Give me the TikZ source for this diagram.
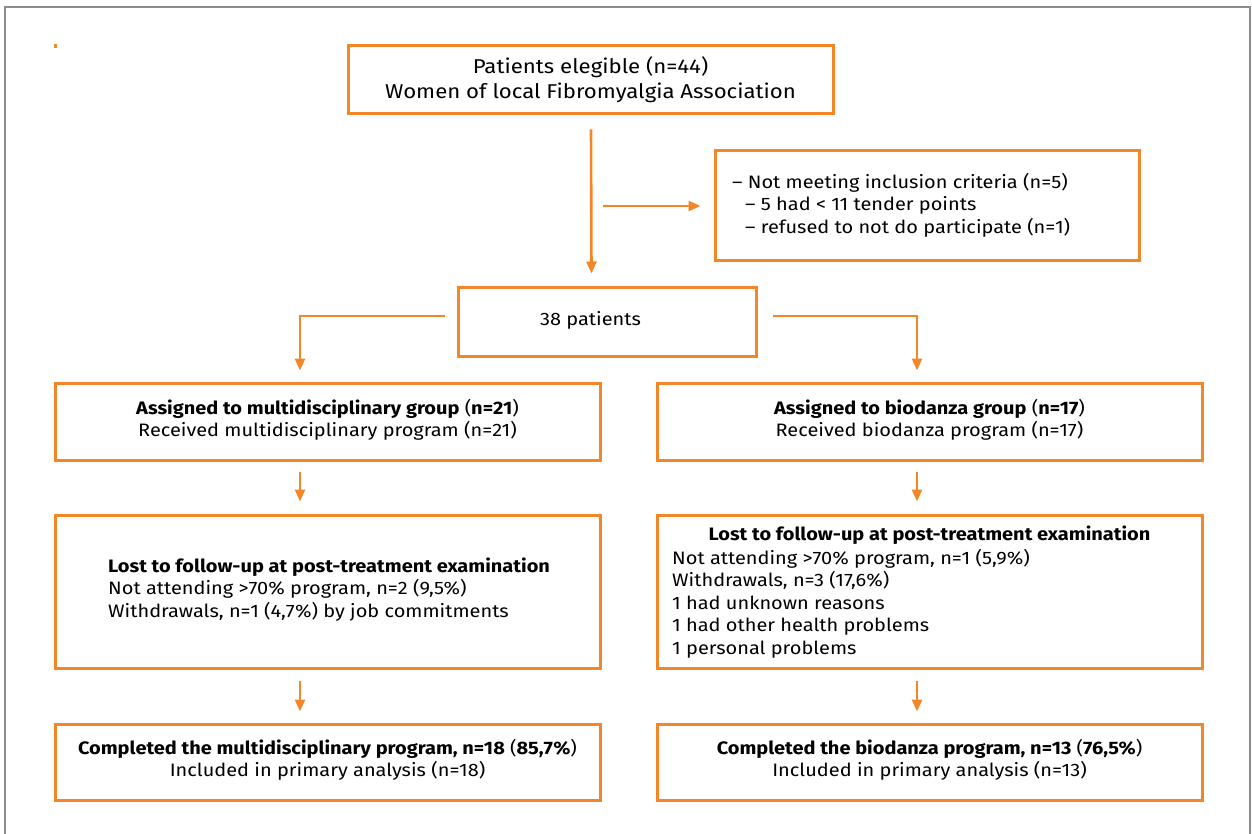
\documentclass[tikz,border=0pt]{standalone}
\usepackage{fontspec}
\setmainfont[FakeStretch=1.11]{Fira Sans}
\usetikzlibrary{arrows.meta}
\definecolor{org}{RGB}{243,134,38}
\definecolor{frm}{RGB}{140,140,140}
\begin{document}
\begin{tikzpicture}[x=1pt,y=-1pt,
  box/.style={draw=org, line width=3pt, inner sep=0pt},
  conn/.style={draw=org, line width=2.6pt, -{Triangle[length=12pt,width=10pt]}},
  ttl/.style={font=\fontsize{20}{25}\selectfont, align=center, inner sep=0pt},
  txt/.style={font=\fontsize{18}{22.5}\selectfont, inner sep=0pt},
]
\useasboundingbox (0,0) rectangle (1252,834);
\draw[frm, line width=2pt] (5,840) -- (5,7) -- (1250,7) -- (1250,840);
\fill[org] (54,44) rectangle (57,48);

% boxes
\node[box, minimum width=485pt, minimum height=68pt] (top) at (590.5,80) {};
\node[ttl] (toptxt) at (590.5,80) {Patients elegible (n=44)\\Women of local Fibromyalgia Association};

\node[box, minimum width=424pt, minimum height=110pt] (excl) at (927,206) {};
\node[txt, anchor=west, align=left] (excltxt) at (732,205) {-- Not meeting inclusion criteria (n=5)\\
\hspace*{13pt}-- 5 had < 11 tender points\\
\hspace*{13pt}-- refused to not do participate (n=1)};

\node[box, minimum width=298pt, minimum height=69pt] (p38) at (607,321.5) {};
\node[txt] (p38txt) at (590.5,320) {38 patients};

\node[box, minimum width=545pt, minimum height=77pt] (mg) at (327.5,421.5) {};
\node[txt, align=center] (mgtxt) at (327.5,420) {\textbf{Assigned to multidisciplinary group} (\textbf{n=21})\\Received multidisciplinary program (n=21)};

\node[box, minimum width=545pt, minimum height=77pt] (bg) at (929.5,421.5) {};
\node[txt, align=center] (bgtxt) at (929.5,420) {\textbf{Assigned to biodanza group} (\textbf{n=17})\\Received biodanza program (n=17)};

\node[box, minimum width=545pt, minimum height=153pt] (ml) at (327.5,591.5) {};
\node[txt, anchor=west, align=left] (mltxt) at (108,589.5) {\textbf{Lost to follow-up at post-treatment examination}\\
Not attending >70\% program, n=2 (9,5\%)\\
Withdrawals, n=1 (4,7\%) by job commitments};

\node[box, minimum width=545pt, minimum height=153pt] (bl) at (929.5,591.5) {};
\node[txt, anchor=north] (bltitle) at (929.5,526) {\textbf{Lost to follow-up at post-treatment examination}};
\node[txt, anchor=north west, align=left] (bltxt) at (672,549) {Not attending >70\% program, n=1 (5,9\%)\\
Withdrawals, n=3 (17,6\%)\\
1 had unknown reasons\\
1 had other health problems\\
1 personal problems};

\node[box, minimum width=545pt, minimum height=76pt] (mc) at (327.5,762) {};
\node[txt, align=center] (mctxt) at (327.5,760) {\textbf{Completed the multidisciplinary program, n=18} (\textbf{85,7\%})\\Included in primary analysis (n=18)};

\node[box, minimum width=545pt, minimum height=76pt] (bc) at (929.5,762) {};
\node[txt, align=center] (bctxt) at (929.5,760) {\textbf{Completed the biodanza program, n=13} (\textbf{76,5\%})\\Included in primary analysis (n=13)};

% connectors
\draw[conn] ([shift={(0.5,14)}]top.south) -- ([shift={(-15.5,-12)}]p38.north);
\coordinate (hstart) at (603,206);
\draw[conn] (hstart) -- ([shift={(-13,0)}]excl.west);
\draw[conn] ([shift={(-12,-5.5)}]p38.west) -| ([shift={(-27.5,-11)}]mg.north);
\draw[conn] ([shift={(15,-5.5)}]p38.east) -| ([shift={(-12.5,-11)}]bg.north);
\draw[conn] ([shift={(-27.5,10)}]mg.south) -- ([shift={(-27.5,-12)}]ml.north);
\draw[conn] ([shift={(-12.5,10)}]bg.south) -- ([shift={(-12.5,-12)}]bl.north);
\draw[conn] ([shift={(-27.5,11)}]ml.south) -- ([shift={(-27.5,-11)}]mc.north);
\draw[conn] ([shift={(-12.5,11)}]bl.south) -- ([shift={(-12.5,-11)}]bc.north);
\end{tikzpicture}
\end{document}
